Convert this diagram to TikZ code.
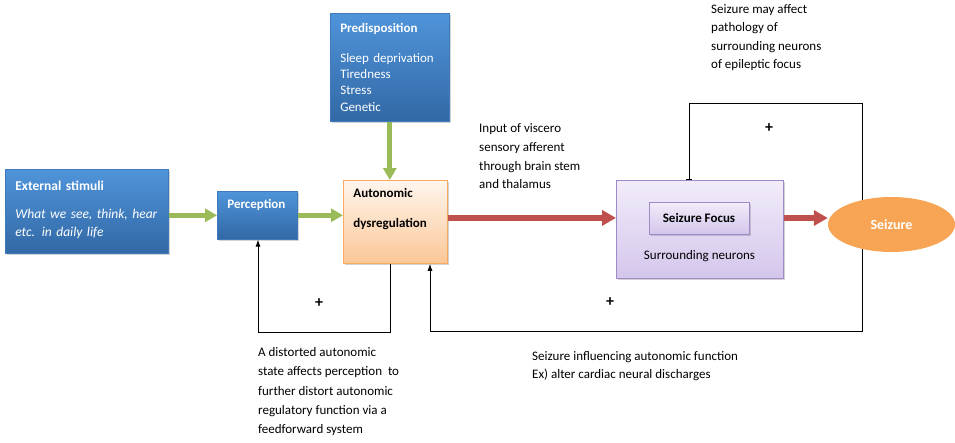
\documentclass[tikz,border=0pt]{standalone}
\usepackage{fontspec}
\setmainfont{Carlito}
\usetikzlibrary{arrows.meta,shapes.geometric,shadows}
\definecolor{bluetop}{RGB}{79,148,218}
\definecolor{bluebot}{RGB}{50,104,165}
\definecolor{blueline}{RGB}{62,122,188}
\definecolor{peachtop}{RGB}{255,246,238}
\definecolor{peachbot}{RGB}{251,199,150}
\definecolor{peachline}{RGB}{247,170,95}
\definecolor{lilactop}{RGB}{242,236,250}
\definecolor{lilacbot}{RGB}{212,198,236}
\definecolor{lilacline}{RGB}{158,138,198}
\definecolor{seizorange}{RGB}{247,165,85}
\definecolor{arrowgreen}{RGB}{155,187,89}
\definecolor{arrowred}{RGB}{192,80,77}
\begin{document}
\begin{tikzpicture}[x=1pt,y=-1pt,
    every node/.style={font=\fontsize{13}{18.7}\selectfont, text=black},
    shade/.style={drop shadow={shadow xshift=1.5pt, shadow yshift=-1.5pt, opacity=0.35}},
    bluebox/.style={rectangle, anchor=north west, top color=bluetop, bottom color=bluebot, draw=blueline, line width=0.6pt, text=white, align=left, inner xsep=10pt, inner ysep=0pt, shade},
    peachbox/.style={rectangle, anchor=north west, top color=peachtop, bottom color=peachbot, draw=peachline, line width=0.8pt, align=left, inner xsep=10pt, inner ysep=0pt, shade},
    lilacbox/.style={rectangle, anchor=north west, top color=lilactop, bottom color=lilacbot, draw=lilacline, line width=0.8pt, inner sep=0pt, shade},
    greenarrow/.style={draw=arrowgreen, line width=5pt, -{Triangle[length=12pt,width=13pt]}},
    redarrow/.style={draw=arrowred, line width=6pt, -{Triangle[length=14pt,width=15pt]}},
    loopline/.style={draw=black, line width=0.9pt},
    plus/.style={font=\bfseries\fontsize{16}{18}\selectfont},
    remark/.style={anchor=north west, align=left, inner sep=0pt}]
    \useasboundingbox (0,0) rectangle (955,442);

    \node[bluebox, text width=143pt, minimum width=163pt, minimum height=84pt, font=\fontsize{13.5}{18}\selectfont] (stim) at (5,169)
        {\textbf{External stimuli}\\[10pt]\itshape What we see, think, hear\\etc. in daily life\\[-12pt]\mbox{}};
    \node[bluebox, text width=99pt, minimum width=119pt, minimum height=108pt, font=\fontsize{13}{16.3}\selectfont] (pre) at (330,13)
        {\textbf{Predisposition}\\[13.7pt]Sleep deprivation\\Tiredness\\Stress\\Genetic};
    \node[bluebox, text width=60pt, minimum width=80pt, minimum height=48pt] (perc) at (217,191)
        {\textbf{Perception}\\[4pt]\mbox{}};
    \node[peachbox, text width=84pt, minimum width=104pt, minimum height=83pt] (auto) at (343,180)
        {\textbf{Autonomic}\\[12pt]\textbf{dysregulation}\\[9pt]\mbox{}};
    \node[lilacbox, minimum width=167pt, minimum height=98pt] (focusbox) at (616,180) {};
    \node[lilacbox, anchor=center, minimum width=100pt, minimum height=32pt, font=\bfseries\fontsize{13}{16}\selectfont] (focus) at (699,218) {Seizure Focus};
    \node (surround) at (699.5,256) {Surrounding neurons};

    \coordinate (fbtop) at (862,103);
    \coordinate (fbbot) at (862,331);
    \coordinate (fbin) at (689,103);
    \coordinate (fbleft) at (430,331);
    \coordinate (ffright) at (390,332);
    \coordinate (ffleft) at (258,332);

    \draw[loopline, -{Bar[width=6pt]}] (fbtop) -- (fbin) -- (fbin |- focusbox.north);
    \draw[loopline, -{Latex[length=7pt,width=5pt]}] (fbtop) -- (fbbot) -- (fbleft) -- (fbleft |- auto.south);
    \draw[loopline, -{Latex[length=7pt,width=5pt]}] (ffright |- auto.south) -- (ffright) -- (ffleft) -- (ffleft |- perc.south);

    \node[ellipse, fill=seizorange, minimum width=127pt, minimum height=55pt, inner sep=0pt, text=white, font=\bfseries\fontsize{14}{16}\selectfont] (seiz) at (891.5,224.5) {Seizure};

    \draw[greenarrow] (stim.east |- perc) -- (perc.west);
    \draw[greenarrow] (perc.east) -- (perc.east -| auto.west);
    \draw[greenarrow] (pre.south) -- (pre.south |- auto.north);
    \draw[redarrow] ([yshift=4pt]auto.east) -- ([yshift=4pt]auto.east -| focusbox.west);
    \draw[redarrow] (focusbox.east |- focus) -- (seiz.west |- focus);

    \node[plus] (plusff) at (319,303) {+};
    \node[plus] (plusfb) at (610,302) {+};
    \node[plus] (plustop) at (769,128) {+};

    \node[remark, font=\fontsize{13}{18.7}\selectfont] (input) at (479,123.5)
        {Input of viscero\\sensory afferent\\through brain stem\\and thalamus};
    \node[remark, font=\fontsize{13}{18.3}\selectfont] (affect) at (711,4.5)
        {Seizure may affect\\pathology of\\surrounding neurons\\of epileptic focus};
    \node[remark, font=\fontsize{13}{19.2}\selectfont] (distort) at (258,347.5)
        {A distorted autonomic\\state affects perception\ \ to\\further distort autonomic\\regulatory function via a\\feedforward system};
    \node[remark, font=\fontsize{13}{18}\selectfont] (influence) at (532,351.5)
        {Seizure influencing autonomic function\\Ex) alter cardiac neural discharges};
\end{tikzpicture}
\end{document}
